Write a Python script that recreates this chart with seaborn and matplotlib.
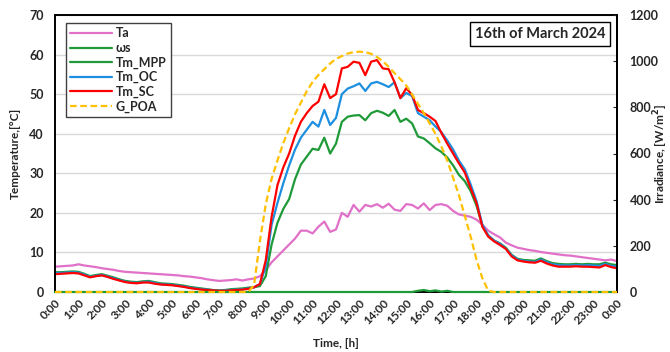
import numpy as np
import pandas as pd
import matplotlib
matplotlib.use("Agg")
import matplotlib.pyplot as plt
import seaborn as sns

# ---------------- data (15-minute steps, hours 0..24) ----------------
hours = [i * 0.25 for i in range(97)]
tick_labels = [f"{h}:00" for h in range(24)] + ["0:00"]

ta = [6.4, 6.5, 6.6, 6.7, 7.0, 6.7, 6.5, 6.3, 6.0, 5.8, 5.6, 5.3,
      5.1, 5.0, 4.9, 4.8, 4.7, 4.6, 4.5, 4.4, 4.3, 4.2, 4.0, 3.9,
      3.7, 3.5, 3.2, 3.0, 2.8, 2.9, 3.0, 3.2, 2.9, 3.2, 3.4, 4.0,
      5.5, 7.5, 9.0, 10.5, 12.0, 13.5, 15.5, 15.5, 14.8, 16.5, 17.8, 15.2,
      15.8, 20.0, 19.0, 22.0, 20.3, 22.0, 21.6, 22.2, 21.3, 22.3, 20.8, 20.5,
      22.2, 22.0, 21.1, 22.4, 20.7, 22.0, 22.2, 21.8, 20.5, 19.6, 19.3, 19.0,
      18.3, 17.0, 15.5, 14.6, 13.8, 12.5, 11.8, 11.2, 10.9, 10.6, 10.4, 10.1,
      9.9, 9.7, 9.5, 9.3, 9.2, 9.0, 8.8, 8.6, 8.4, 8.2, 8.0, 8.2, 7.8]

ws = [0.0] * 62 + [0.3, 0.5, 0.2, 0.4, 0.1, 0.3] + [0.0] * 29

tm_mpp = [5.0, 5.0, 5.1, 5.2, 5.1, 4.6, 4.0, 4.3, 4.5, 4.1, 3.7, 3.2,
          2.8, 2.6, 2.5, 2.7, 2.8, 2.5, 2.2, 2.1, 2.0, 1.8, 1.6, 1.3,
          1.1, 0.9, 0.7, 0.5, 0.4, 0.5, 0.7, 0.8, 0.9, 1.1, 1.2, 1.5,
          4.0, 12.0, 17.5, 21.0, 23.5, 28.5, 32.2, 34.2, 36.2, 35.9, 39.0, 35.0,
          37.5, 43.0, 44.3, 44.6, 44.7, 43.4, 45.2, 45.8, 45.3, 44.5, 46.0, 43.0,
          43.8, 42.6, 39.3, 38.8, 37.6, 36.3, 35.4, 34.0, 32.0, 29.6, 28.0, 25.5,
          21.8, 16.8, 14.3, 13.0, 12.3, 11.2, 9.4, 8.4, 8.1, 8.0, 7.9, 8.5,
          7.8, 7.3, 7.1, 7.0, 7.0, 7.1, 7.0, 7.1, 7.0, 7.0, 7.4, 7.0, 6.8]

tm_oc = [4.8, 4.8, 4.9, 5.0, 4.9, 4.4, 3.8, 4.1, 4.3, 3.9, 3.5, 3.0,
         2.6, 2.4, 2.3, 2.5, 2.6, 2.3, 2.0, 1.9, 1.8, 1.6, 1.4, 1.1,
         0.9, 0.7, 0.6, 0.4, 0.3, 0.4, 0.5, 0.6, 0.7, 0.9, 1.2, 2.0,
         6.5, 17.0, 22.5, 27.5, 32.0, 36.0, 39.0, 41.0, 43.0, 41.8, 46.0, 42.2,
         44.0, 50.0, 51.4, 52.0, 52.7, 50.8, 52.7, 53.1, 52.5, 51.8, 53.0, 49.0,
         50.3, 49.5, 45.2, 44.3, 43.4, 41.8, 40.4, 38.3, 36.0, 33.2, 31.0, 27.2,
         23.0, 17.0, 14.3, 13.0, 12.2, 11.0, 9.3, 8.2, 7.9, 7.7, 7.6, 8.2,
         7.5, 7.0, 6.8, 6.7, 6.7, 6.8, 6.7, 6.8, 6.7, 6.6, 7.1, 6.6, 6.4]

tm_sc = [4.5, 4.6, 4.7, 4.8, 4.7, 4.2, 3.7, 4.0, 4.2, 3.8, 3.3, 2.9,
         2.5, 2.3, 2.2, 2.4, 2.4, 2.1, 1.9, 1.8, 1.7, 1.5, 1.3, 1.0,
         0.8, 0.6, 0.5, 0.4, 0.3, 0.3, 0.4, 0.5, 0.6, 0.8, 1.2, 2.0,
         8.0, 19.0, 27.0, 31.5, 35.0, 39.5, 43.0, 45.2, 47.0, 48.1, 52.5, 49.0,
         50.0, 56.5, 56.9, 58.2, 57.9, 54.8, 58.2, 58.6, 56.5, 56.3, 53.0, 49.0,
         51.5, 49.8, 46.0, 45.2, 44.3, 43.2, 40.2, 37.5, 35.0, 32.5, 30.2, 26.2,
         22.5, 16.5, 14.0, 12.8, 11.9, 10.9, 9.0, 8.0, 7.7, 7.5, 7.4, 7.9,
         7.2, 6.7, 6.4, 6.4, 6.4, 6.5, 6.4, 6.4, 6.3, 6.2, 6.8, 6.3, 6.0]

g_poa = [0.0] * 33 + [0, 30, 220,
         380, 490, 570, 645, 710, 770, 820, 870, 910, 940, 965, 990,
         1010, 1022, 1033, 1039, 1041, 1039, 1032, 1018, 1000, 975, 948, 922,
         895, 855, 815, 775, 730, 685, 630, 570, 495, 420, 330, 240,
         140, 60, 5, 0] + [0.0] * 21

# ---------------- style ----------------
sns.set_theme(style="white")
plt.rcParams['font.family'] = ['Lato', 'DejaVu Sans']
plt.rcParams['font.weight'] = 'bold'
plt.rcParams['axes.labelweight'] = 'bold'

fig = plt.figure(figsize=(6.7, 3.52), dpi=100)
ax = fig.add_axes([55 / 670, 1 - 292 / 352, 562 / 670, 277 / 352])

df = pd.DataFrame({"h": hours, "Ta": ta, "ws": ws, "MPP": tm_mpp,
                   "OC": tm_oc, "SC": tm_sc, "G": g_poa})

lw = 1.6
c_ta = "#E070C8"
c_green = "#1E9A38"
c_blue = "#1E8FE0"
c_red = "#FF0000"
c_orange = "#FFC000"

sns.lineplot(data=df, x="h", y="Ta", ax=ax, color=c_ta, lw=lw, label="Ta")
sns.lineplot(data=df, x="h", y="ws", ax=ax, color=c_green, lw=lw, label="ωs",
             clip_on=False, zorder=3)
sns.lineplot(data=df, x="h", y="MPP", ax=ax, color=c_green, lw=lw, label="Tm_MPP")
sns.lineplot(data=df, x="h", y="OC", ax=ax, color=c_blue, lw=lw, label="Tm_OC")
sns.lineplot(data=df, x="h", y="SC", ax=ax, color=c_red, lw=lw, label="Tm_SC")

ax2 = ax.twinx()
sns.lineplot(data=df, x="h", y="G", ax=ax2, color=c_orange, lw=lw,
             linestyle=(0, (3, 1.6)), label="G_POA", clip_on=False, zorder=3)

ax.set_xlim(0, 24)
ax.set_ylim(0, 70)
ax2.set_ylim(0, 1200)
ax.set_yticks(range(0, 71, 10))
ax2.set_yticks(range(0, 1201, 200))
ax.set_xticks(range(25))
ax.set_xticklabels(tick_labels, rotation=45, ha="right", rotation_mode="anchor",
                   fontsize=8.5, fontweight="bold")
ax.tick_params(axis="x", direction="in", length=3, width=0.8, pad=4)
ax.tick_params(axis="y", length=0, labelsize=9, pad=8)
ax2.tick_params(axis="y", direction="in", length=3, width=0.8, labelsize=9, pad=9)
for t in ax.get_yticklabels() + ax2.get_yticklabels():
    t.set_fontweight("bold")

ax.yaxis.grid(True, color="#D9D9D9", lw=1)
ax.set_axisbelow(True)
for s in ax.spines.values():
    s.set_color("black")
    s.set_linewidth(1.4)
for side in ("left", "top", "bottom"):
    ax2.spines[side].set_visible(False)
ax2.spines["right"].set_color("black")
ax2.spines["right"].set_linewidth(1.4)

ax.set_xlabel("Time, [h]", fontsize=8.5, fontweight="bold", labelpad=0)
ax.set_ylabel("Temperature,[°C]", fontsize=8.5, fontweight="bold", labelpad=6)
ax2.set_ylabel("Irradiance, [W/m$^2$]", fontsize=8.5, fontweight="bold",
               rotation=90, va="center")
ax2.yaxis.set_label_coords((661 - 55) / 562, 0.5)
ax.xaxis.set_label_coords(0.5, -0.165)

# legend combining both axes
h1, l1 = ax.get_legend_handles_labels()
h2, l2 = ax2.get_legend_handles_labels()
if ax2.get_legend():
    ax2.get_legend().remove()
leg = ax2.legend(h1 + h2, l1 + l2, loc="upper left",
                 bbox_to_anchor=(11 / 562, 269 / 277), borderaxespad=0,
                 frameon=True, fancybox=False, handlelength=3.3,
                 prop={"weight": "bold", "size": 9}, labelspacing=0.2,
                 borderpad=0.35, handletextpad=0.3, framealpha=1)
leg.get_frame().set_edgecolor("#404040")
leg.get_frame().set_linewidth(1.0)
if ax.get_legend():
    ax.get_legend().remove()

ax2.text((540 - 55) / 562, (292 - 34) / 277, "16th of March 2024",
         transform=ax2.transAxes, ha="center", va="center",
         fontsize=10.5, fontweight="bold",
         bbox=dict(boxstyle="square,pad=0.35", fc="white", ec="black", lw=1))

fig.savefig("out.png", dpi=100)
